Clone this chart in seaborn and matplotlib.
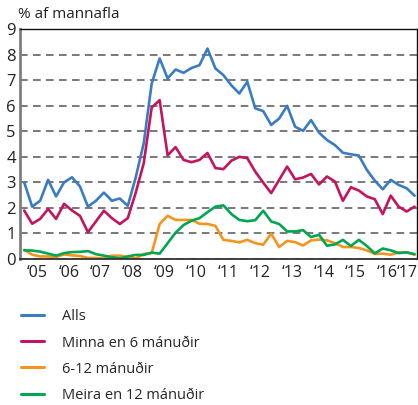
import numpy as np
import pandas as pd
import matplotlib
matplotlib.use('Agg')
import matplotlib.pyplot as plt
import seaborn as sns

# Atvinnuleysi eftir lengd, ársfjórðungsgögn 2005 - 2017
alls = [3.0, 2.05, 2.28, 3.1, 2.45, 3.0, 3.2, 2.84, 2.05, 2.28, 2.6, 2.28, 2.37, 2.08, 3.2,
        4.53, 6.87, 7.85, 7.07, 7.42, 7.29, 7.48, 7.59, 8.24, 7.46, 7.2, 6.8, 6.48, 6.94, 5.9,
        5.79, 5.25, 5.5, 6.0, 5.18, 5.02, 5.44, 4.95, 4.66, 4.46, 4.16, 4.1, 4.05, 3.49, 3.07,
        2.73, 3.1, 2.9, 2.77, 2.48]
minna6 = [1.9, 1.38, 1.57, 1.96, 1.57, 2.16, 1.9, 1.69, 1.05, 1.47, 1.89, 1.6, 1.37, 1.6, 2.6,
          3.75, 5.93, 6.22, 4.06, 4.38, 3.88, 3.79, 3.88, 4.15, 3.56, 3.52, 3.85, 4.0, 3.95, 3.42,
          2.99, 2.58, 3.1, 3.62, 3.12, 3.19, 3.33, 2.92, 3.23, 3.03, 2.28, 2.81, 2.68, 2.45, 2.34,
          1.76, 2.48, 2.05, 1.86, 2.05]
man6_12 = [0.36, 0.17, 0.1, 0.1, 0.08, 0.18, 0.14, 0.12, 0.04, 0.04, 0.02, 0.13, 0.13, 0.08, 0.02,
           0.2, 0.23, 1.37, 1.69, 1.53, 1.53, 1.53, 1.38, 1.37, 1.3, 0.75, 0.71, 0.65, 0.75, 0.62,
           0.56, 0.99, 0.47, 0.71, 0.66, 0.53, 0.73, 0.76, 0.73, 0.62, 0.47, 0.47, 0.43, 0.34, 0.2,
           0.21, 0.17, 0.26, 0.26, 0.17]
meira12 = [0.34, 0.33, 0.29, 0.21, 0.13, 0.23, 0.27, 0.28, 0.31, 0.19, 0.13, 0.07, 0.02, 0.1, 0.16,
           0.16, 0.25, 0.21, 0.62, 1.03, 1.33, 1.5, 1.6, 1.83, 2.05, 2.1, 1.76, 1.53, 1.48, 1.52,
           1.89, 1.47, 1.37, 1.08, 1.08, 1.13, 0.86, 0.95, 0.52, 0.57, 0.75, 0.51, 0.75, 0.51, 0.22,
           0.41, 0.34, 0.23, 0.26, 0.19]

reknir = ['Alls', 'Minna en 6 mánuðir', '6-12 mánuðir', 'Meira en 12 mánuðir']
litir = ['#3a7cc3', '#c1155f', '#f7941d', '#00a650']
ar = list(range(2005, 2018))
ar_merki = ['\u201805', '\u201806', '\u201807', '\u201808', '\u201809', '\u201810', '\u201811',
            '\u201812', '\u201813', '\u201814', '\u201815', '\u201816', '\u201817']

timi = 2005.1 + np.arange(len(alls)) / 4
df = pd.DataFrame({'timi': np.tile(timi, 4),
                   'gildi': alls + minna6 + man6_12 + meira12,
                   'rod': np.repeat(reknir, len(alls))})

sns.set_style('white')
plt.rcParams['font.family'] = ['Open Sans', 'DejaVu Sans']

fig = plt.figure(figsize=(4.18, 4.05), dpi=100)
ax = fig.add_axes([0.048, 0.3605, 0.95, 0.5675])

sns.lineplot(data=df, x='timi', y='gildi', hue='rod', palette=litir, hue_order=reknir,
             linewidth=1.9, ax=ax, legend=False)

ax.set_xlim(2004.97, 2017.43)
ax.set_ylim(0, 9)
ax.set_yticks(range(0, 10))
ax.tick_params(axis='y', length=0, pad=3, labelsize=12, colors='#222222')
ax.set_xticks(ar)
ax.set_xticklabels([])
ax.tick_params(axis='x', which='major', length=6, width=1.2, direction='out', color='#333333')
mid = [min(a + 0.5, 2017.12) for a in ar]   # síðasta merkið þjappað að jaðrinum
ax.set_xticks(mid, minor=True)
ax.set_xticklabels(ar_merki, minor=True)
ax.tick_params(axis='x', which='minor', length=0, pad=4, labelsize=11.5, colors='#222222')
ax.set_xlabel('')
ax.set_ylabel('')

ax.yaxis.grid(True, color='#555555', linewidth=1.1, linestyle=(0, (5, 3.5)))
ax.set_axisbelow(True)
ax.spines['left'].set_color('#7f7f7f')
ax.spines['left'].set_linewidth(2)
ax.spines['bottom'].set_color('#333333')
ax.spines['bottom'].set_linewidth(1.3)
for s in ['top', 'right']:
    ax.spines[s].set_color('#111111')
    ax.spines[s].set_linewidth(1)

fig.text(0.043, 0.965, '% af mannafla', fontsize=11, va='center', ha='left', color='#222222')

handles = [plt.Line2D([], [], color=c, linewidth=2.2) for c in litir]
fig.legend(handles, reknir, loc='upper left', bbox_to_anchor=(0.05, 0.236), frameon=False,
           fontsize=10.5, handlelength=1.6, handletextpad=1.2, labelspacing=0.76,
           borderpad=0, borderaxespad=0)

fig.savefig('out.png', dpi=100)
